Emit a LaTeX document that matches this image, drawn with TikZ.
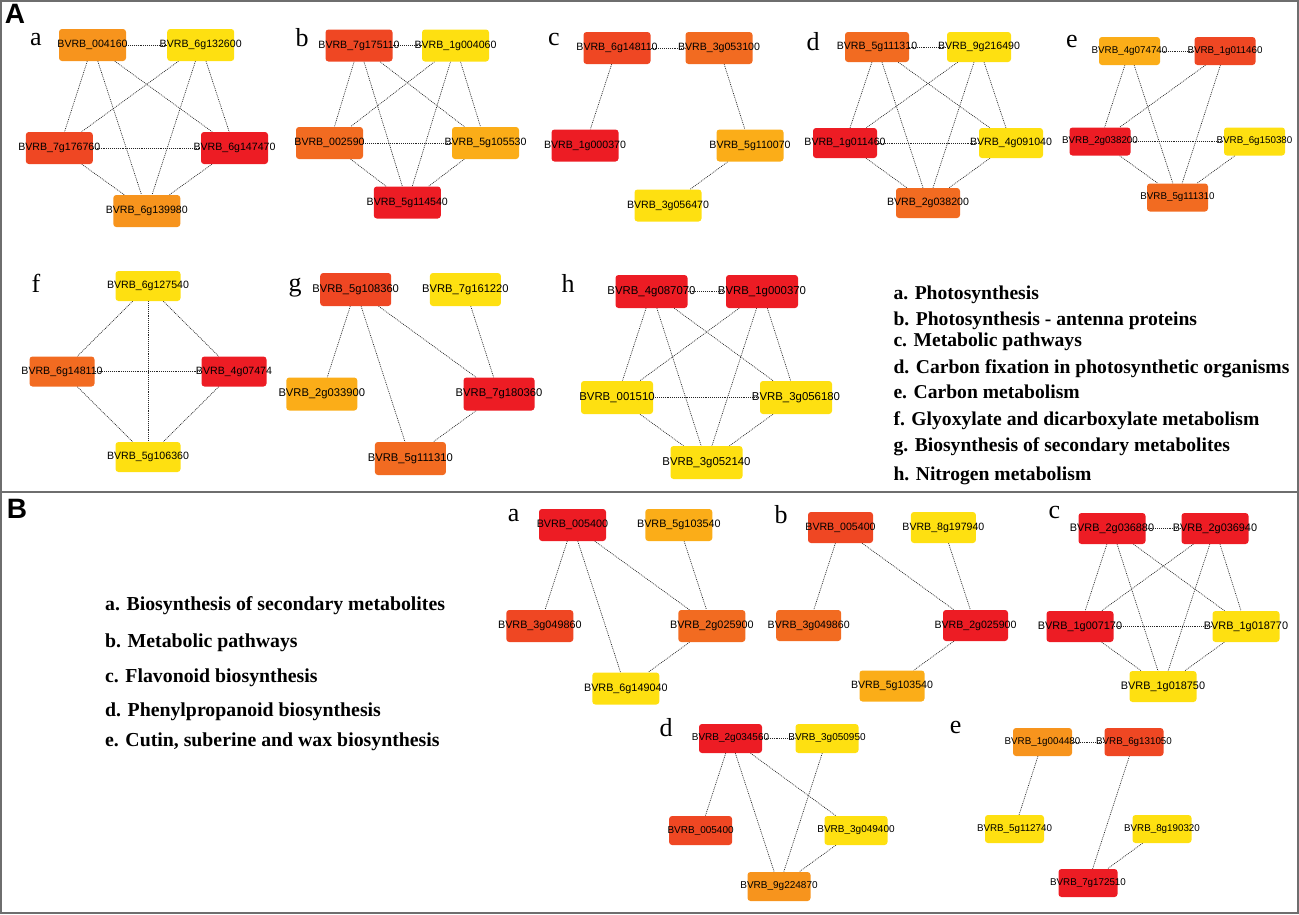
\documentclass[tikz,border=0pt]{standalone}
\usepackage{fontspec}
\setmainfont{Liberation Serif}
\setsansfont{Liberation Sans}
\usetikzlibrary{backgrounds}
\definecolor{cred}{HTML}{ED1C24}
\definecolor{credor}{HTML}{EF4723}
\definecolor{corange}{HTML}{F26B21}
\definecolor{clight}{HTML}{F7941D}
\definecolor{camber}{HTML}{FBAD18}
\definecolor{cyellow}{HTML}{FEE011}
\definecolor{cframe}{HTML}{6E6E6E}
\newcommand{\gid}[1]{\makebox[0pt]{BVRB\_#1}}
\tikzset{
  gene/.style={rectangle, rounded corners=3pt, inner sep=0pt, minimum width=67, minimum height=32,
    font=\sffamily\fontsize{10.6}{12}\selectfont},
  link/.style={draw=black!85, line width=0.7pt, dash pattern=on 0.9pt off 1pt},
  tag/.style={anchor=base, font=\fontsize{26}{26}\selectfont},
  key/.style={anchor=base west, font=\bfseries\fontsize{19.6}{20}\selectfont},
  panel/.style={font=\sffamily\bfseries\fontsize{28}{28}\selectfont},
}
\begin{document}
\begin{tikzpicture}[x=1pt,y=-1pt]
\useasboundingbox (0,0) rectangle (1299,914);
\draw[cframe, line width=1.6pt] (1,1) rectangle (1298,913);
\draw[cframe, line width=1.6pt] (1,492) -- (1298,492);
\node[panel] (A) at (15,14) {A};
\node[panel] (B) at (17,509) {B};

% ---- A a
\node[tag] (ta) at (36,45) {a};
\node[gene,fill=clight] (Aa1) at (92.5,45) {\gid{004160}};
\node[gene,fill=cyellow] (Aa2) at (200.7,45) {\gid{6g132600}};
\node[gene,fill=credor] (Aa3) at (59.3,148) {\gid{7g176760}};
\node[gene,fill=cred] (Aa4) at (234.5,148) {\gid{6g147470}};
\node[gene,fill=clight] (Aa5) at (146.8,211) {\gid{6g139980}};
% ---- A b
\node[tag] (tb) at (302,46.5) {b};
\node[gene,fill=credor] (Ab1) at (359,45.5) {\gid{7g175110}};
\node[gene,fill=cyellow] (Ab2) at (455.5,45.5) {\gid{1g004060}};
\node[gene,fill=corange] (Ab3) at (329.5,143) {\gid{002590}};
\node[gene,fill=camber] (Ab4) at (485.5,143) {\gid{5g105530}};
\node[gene,fill=cred] (Ab5) at (407.3,202.5) {\gid{5g114540}};
% ---- A c
\node[tag] (tc) at (554,45) {c};
\node[gene,fill=credor] (Ac1) at (617,48) {\gid{6g148110}};
\node[gene,fill=corange] (Ac2) at (719,48) {\gid{3g053100}};
\node[gene,fill=cred] (Ac3) at (585,145.5) {\gid{1g000370}};
\node[gene,fill=camber] (Ac4) at (750,145.5) {\gid{5g110070}};
\node[gene,fill=cyellow] (Ac5) at (668,205.5) {\gid{3g056470}};
% ---- A d
\node[tag] (td) at (813,50) {d};
\begin{scope}[gene/.append style={minimum width=64, minimum height=30}]
\node[gene,fill=corange] (Ad1) at (877,47) {\gid{5g111310}};
\node[gene,fill=cyellow] (Ad2) at (979,47) {\gid{9g216490}};
\node[gene,fill=cred] (Ad3) at (845,143) {\gid{1g011460}};
\node[gene,fill=cyellow] (Ad4) at (1011,143) {\gid{4g091040}};
\node[gene,fill=corange] (Ad5) at (928,203) {\gid{2g038200}};
\end{scope}
% ---- A e
\node[tag] (te) at (1072,47.5) {e};
\begin{scope}[gene/.append style={minimum width=61, minimum height=28, font=\sffamily\fontsize{9.8}{11}\selectfont}]
\node[gene,fill=camber] (Ae1) at (1129.5,51) {\gid{4g074740}};
\node[gene,fill=credor] (Ae2) at (1225,51) {\gid{1g011460}};
\node[gene,fill=cred] (Ae3) at (1100,141.5) {\gid{2g038200}};
\node[gene,fill=cyellow] (Ae4) at (1254.5,141.5) {\gid{6g150380}};
\node[gene,fill=corange] (Ae5) at (1177.5,197.5) {\gid{5g111310}};
\end{scope}
% ---- A f
\node[tag] (tf) at (36,292.5) {f};
\begin{scope}[gene/.append style={minimum width=65, minimum height=30}]
\node[gene,fill=cyellow] (Af1) at (148,286) {\gid{6g127540}};
\node[gene,fill=corange] (Af2) at (62,371.5) {\gid{6g148110}};
\node[gene,fill=cred] (Af3) at (234,371.5) {\gid{4g07474}};
\node[gene,fill=cyellow] (Af4) at (148,457) {\gid{5g106360}};
\end{scope}
% ---- A g
\node[tag] (tg) at (295,291.5) {g};
\begin{scope}[gene/.append style={minimum width=71, minimum height=33, font=\sffamily\fontsize{11.2}{13}\selectfont}]
\node[gene,fill=credor] (Ag1) at (355.7,289.5) {\gid{5g108360}};
\node[gene,fill=cyellow] (Ag2) at (465.4,289.5) {\gid{7g161220}};
\node[gene,fill=camber] (Ag3) at (321.8,394) {\gid{2g033900}};
\node[gene,fill=cred] (Ag4) at (499,394) {\gid{7g180360}};
\node[gene,fill=corange] (Ag5) at (410.4,458.5) {\gid{5g111310}};
\end{scope}
% ---- A h
\node[tag] (th) at (568,292.5) {h};
\begin{scope}[gene/.append style={minimum width=72, minimum height=33, font=\sffamily\fontsize{11.4}{13}\selectfont}]
\node[gene,fill=cred] (Ah1) at (651.5,291.5) {\gid{4g087070}};
\node[gene,fill=cred] (Ah2) at (762,291.5) {\gid{1g000370}};
\node[gene,fill=cyellow] (Ah3) at (617,397.5) {\gid{001510}};
\node[gene,fill=cyellow] (Ah4) at (796,397.5) {\gid{3g056180}};
\node[gene,fill=cyellow] (Ah5) at (706.5,462.5) {\gid{3g052140}};
\end{scope}

% legend A
\node[key] (kA1) at (890,299.3) {a. Photosynthesis};
\node[key] (kA2) at (890,325) {b. Photosynthesis - antenna proteins};
\node[key] (kA3) at (890,346) {c. Metabolic pathways};
\node[key] (kA4) at (890,373.3) {d. Carbon fixation in photosynthetic organisms};
\node[key] (kA5) at (890,398.3) {e. Carbon metabolism};
\node[key] (kA6) at (890,425) {f. Glyoxylate and dicarboxylate metabolism};
\node[key] (kA7) at (890,451.7) {g. Biosynthesis of secondary metabolites};
\node[key] (kA8) at (890,480) {h. Nitrogen metabolism};

% legend B
\begin{scope}[key/.append style={font=\bfseries\fontsize{19.8}{21}\selectfont}]
\node[key] (kB1) at (101.6,610.7) {a. Biosynthesis of secondary metabolites};
\node[key] (kB2) at (101.6,647.3) {b. Metabolic pathways};
\node[key] (kB3) at (101.6,682.3) {c. Flavonoid biosynthesis};
\node[key] (kB4) at (101.6,716.7) {d. Phenylpropanoid biosynthesis};
\node[key] (kB5) at (101.6,746.7) {e. Cutin, suberine and wax biosynthesis};
\end{scope}

% ---- B a
\node[tag] (tBa) at (513.6,521.7) {a};
\begin{scope}[gene/.append style={minimum width=67, minimum height=32, font=\sffamily\fontsize{10.8}{12}\selectfont}]
\node[gene,fill=cred] (Ba1) at (572.5,525) {\gid{005400}};
\node[gene,fill=camber] (Ba2) at (678.8,525) {\gid{5g103540}};
\node[gene,fill=credor] (Ba3) at (539.8,626) {\gid{3g049860}};
\node[gene,fill=corange] (Ba4) at (711.8,626) {\gid{2g025900}};
\node[gene,fill=cyellow] (Ba5) at (625.8,688.5) {\gid{6g149040}};
\end{scope}
% ---- B b
\node[tag] (tBb) at (781,523) {b};
\begin{scope}[gene/.append style={minimum width=65, minimum height=31}]
\node[gene,fill=credor] (Bb1) at (840.5,527.5) {\gid{005400}};
\node[gene,fill=cyellow] (Bb2) at (943.4,527.5) {\gid{8g197940}};
\node[gene,fill=corange] (Bb3) at (808.7,625.5) {\gid{3g049860}};
\node[gene,fill=cred] (Bb4) at (975.5,625.5) {\gid{2g025900}};
\node[gene,fill=camber] (Bb5) at (892,686) {\gid{5g103540}};
\end{scope}
% ---- B c
\node[tag] (tBc) at (1054.5,518) {c};
\begin{scope}[gene/.append style={minimum width=67, minimum height=31, font=\sffamily\fontsize{10.9}{12}\selectfont}]
\node[gene,fill=cred] (Bc1) at (1112,528.5) {\gid{2g036880}};
\node[gene,fill=cred] (Bc2) at (1215,528.5) {\gid{2g036940}};
\node[gene,fill=cred] (Bc3) at (1080,626.5) {\gid{1g007170}};
\node[gene,fill=cyellow] (Bc4) at (1246,626.5) {\gid{1g018770}};
\node[gene,fill=cyellow] (Bc5) at (1163,686.5) {\gid{1g018750}};
\end{scope}
% ---- B d
\node[tag] (tBd) at (666,736.7) {d};
\begin{scope}[gene/.append style={minimum width=63, minimum height=29, font=\sffamily\fontsize{10}{11}\selectfont}]
\node[gene,fill=cred] (Bd1) at (730.5,738.5) {\gid{2g034560}};
\node[gene,fill=cyellow] (Bd2) at (827,738.5) {\gid{3g050950}};
\node[gene,fill=credor] (Bd3) at (700.6,830.5) {\gid{005400}};
\node[gene,fill=cyellow] (Bd4) at (856,830.5) {\gid{3g049400}};
\node[gene,fill=clight] (Bd5) at (779,886.5) {\gid{9g224870}};
\end{scope}
% ---- B e
\node[tag] (tBe) at (955.6,733) {e};
\begin{scope}[gene/.append style={minimum width=59, minimum height=28, font=\sffamily\fontsize{9.8}{11}\selectfont}]
\node[gene,fill=clight] (Be1) at (1042.5,742) {\gid{1g004480}};
\node[gene,fill=credor] (Be2) at (1134,742) {\gid{6g131050}};
\node[gene,fill=cyellow] (Be3) at (1014.5,829) {\gid{5g112740}};
\node[gene,fill=cyellow] (Be4) at (1162,829) {\gid{8g190320}};
\node[gene,fill=cred] (Be5) at (1088,883) {\gid{7g172510}};
\end{scope}

% edges behind the boxes
\begin{pgfonlayer}{background}
\foreach \p in {Aa,Ab,Ad,Ah,Bc}
  \foreach \i/\j in {1/2,1/3,1/4,1/5,2/3,2/4,2/5,3/4,3/5,4/5}
    \draw[link] (\p\i) -- (\p\j);
\foreach \i/\j in {1/2,1/3,1/4,2/3,2/4,3/4}
  \draw[link] (Af\i) -- (Af\j);
\foreach \i/\j in {1/2,1/3,2/4,4/5}
  \draw[link] (Ac\i) -- (Ac\j);
\foreach \i/\j in {1/2,1/3,1/5,2/3,2/5,3/4,3/5,4/5}
  \draw[link] (Ae\i) -- (Ae\j);
\foreach \i/\j in {1/3,1/4,1/5,2/4,4/5}
  \draw[link] (Ag\i) -- (Ag\j);
\foreach \i/\j in {1/3,1/4,1/5,2/4,4/5}
  \draw[link] (Ba\i) -- (Ba\j);
\foreach \i/\j in {1/3,1/4,2/4,4/5}
  \draw[link] (Bb\i) -- (Bb\j);
\foreach \i/\j in {1/2,1/3,1/4,1/5,2/5,4/5}
  \draw[link] (Bd\i) -- (Bd\j);
\foreach \i/\j in {1/2,1/3,2/5,4/5}
  \draw[link] (Be\i) -- (Be\j);
\end{pgfonlayer}
\end{tikzpicture}
\end{document}
